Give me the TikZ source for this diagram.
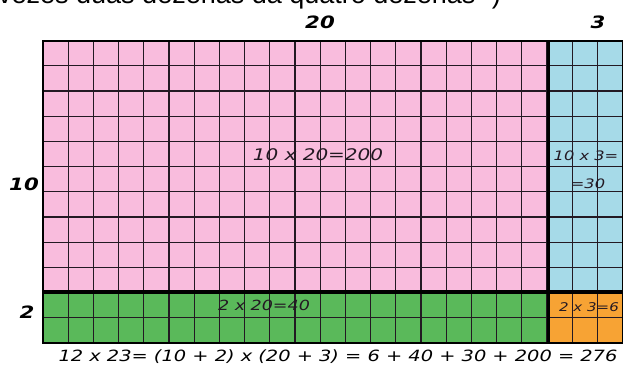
\documentclass[tikz,border=0pt]{standalone}
\usepackage{fontspec}
\setmainfont{Liberation Sans}
\newfontfamily\hand[FakeStretch=1.25]{DejaVu Sans}
\usetikzlibrary{positioning}
\definecolor{pinkc}{RGB}{249,188,221}
\definecolor{bluec}{RGB}{166,218,232}
\definecolor{greenc}{RGB}{90,185,90}
\definecolor{orangec}{RGB}{247,163,52}
\definecolor{gridc}{RGB}{35,25,35}

\begin{document}
\begin{tikzpicture}[x=1pt,y=1pt,
  lbl/.style={font=\hand\itshape\bfseries\fontsize{17}{17}\selectfont,inner sep=0pt},
  cell/.style={font=\hand\itshape\fontsize{13}{13}\selectfont,inner sep=0pt,text=gridc},
  thin/.style={gridc,line width=1.2pt},
  thick/.style={black,line width=3.5pt}]
  \clip (0,0) rectangle (623,369);
  \useasboundingbox (0,0) rectangle (623,369);
  % areas
  \fill[pinkc] (43,77) rectangle (548.4,328.4);
  \fill[bluec] (548.4,77) rectangle (623,328.4);
  \fill[greenc] (43,26) rectangle (548.4,77);
  \fill[orangec] (548.4,26) rectangle (623,77);
  % grid
  \foreach \i in {1,...,22} \draw[thin] (43+\i*25.2,26) -- (43+\i*25.2,328.4);
  \foreach \j in {1,...,11} \draw[thin] (43,26+\j*25.2) -- (623,26+\j*25.2);
  \draw[thick] (548.4,26) -- (548.4,328.4);
  \draw[thick] (43,77) -- (623,77);
  \draw[black,line width=2pt] (43,26) rectangle (622.6,328.4);
  % labels
  \node[anchor=base west,font=\fontsize{27}{27}\selectfont,inner sep=0pt] (hd) at (-2,365) {vezes duas dezenas da quatro dezenas" )};
  \node[lbl] (t20) at (320,347) {20};
  \node[lbl] (t3) at (598,347) {3};
  \node[lbl] (l10) at (24,185) {10};
  \node[lbl] (l2) at (27,57) {2};
  \node[cell,font=\hand\itshape\fontsize{16}{16}\selectfont] (pk) at (318,214) {10 x 20=200};
  \node[cell] (bl1) at (586,213) {10 x 3=};
  \node[cell] (bl2) at (588,185) {=30};
  \node[cell,font=\hand\itshape\fontsize{14}{14}\selectfont] (gr) at (264,64) {2 x 20=40};
  \node[cell,font=\hand\itshape\fontsize{12}{12}\selectfont] (or) at (589,62) {2 x 3=6};
  \node[font=\hand\itshape\fontsize{15.5}{15.5}\selectfont,inner sep=0pt] (eq) at (338,12) {12 x 23= (10 + 2) x (20 + 3) = 6 + 40 + 30 + 200 = 276};
\end{tikzpicture}
\end{document}
